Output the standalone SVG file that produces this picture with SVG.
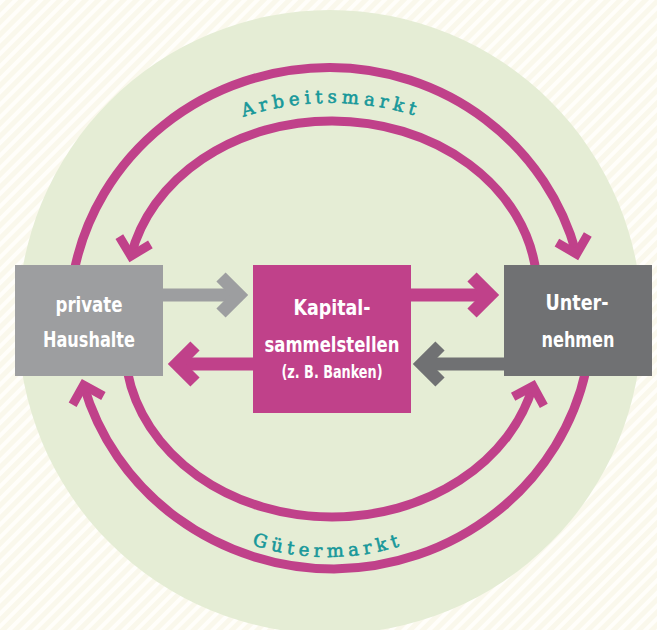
<svg xmlns="http://www.w3.org/2000/svg" width="657" height="630" viewBox="0 0 657 630">
  <style>
    .arc { fill: none; stroke: #c0418a; stroke-width: 9; marker-end: url(#ah); }
    .shaft { fill: none; stroke-width: 13; stroke-linecap: butt; stroke-linejoin: miter; }
    .mag { stroke: #c0418a; }
    .lgray { stroke: #9d9ea0; }
    .dgray { stroke: #707173; }
    .box-text { fill: #ffffff; font-family: "Liberation Sans Narrow", "DejaVu Sans Condensed", "Liberation Sans", sans-serif; font-weight: bold; font-size: 22px; text-anchor: middle; }
    .small { font-size: 17px; }
    .market { fill: #17989a; stroke: #17989a; stroke-width: 0.6px; font-family: "DejaVu Serif", "Liberation Serif", serif; font-size: 18px; letter-spacing: 4.8px; text-anchor: middle; }
  </style>
  <defs>
    <pattern id="stripes" width="9" height="9" patternUnits="userSpaceOnUse" patternTransform="rotate(45)">
      <rect width="9" height="9" fill="#faf8ec"/>
      <rect width="4" height="9" fill="#fffefa"/>
    </pattern>
    <marker id="ah" markerUnits="userSpaceOnUse" viewBox="-22 -22 32 44" markerWidth="32" markerHeight="44" refX="0" refY="0" orient="auto">
      <path d="M -16 -16 L 0 0 L -16 16" fill="none" stroke="#c0418a" stroke-width="9" stroke-linejoin="miter"/>
    </marker>
    <path id="p-arbeit" d="M 148.4 169.4 A 284 284 0 0 1 513.6 169.4"/>
    <path id="p-gueter" d="M 173.7 500.9 A 240 240 0 0 0 482.3 500.9"/>
  </defs>

  <rect width="657" height="630" fill="url(#stripes)"/>
  <circle cx="330" cy="322" r="312" fill="#e5edd5"/>

  <g id="connectors">
    <path class="arc" d="M 74 272 A 260 250.5 0 0 1 330 67.5 A 255 250.5 0 0 1 576.5 254"/>
    <path class="arc" d="M 536 272 A 205 169 0 0 0 332 121 A 205 169 0 0 0 131 256"/>
    <path class="arc" d="M 586 370 A 260 251 0 0 1 334 569 A 260 251 0 0 1 83.6 385"/>
    <path class="arc" d="M 127.5 372 A 207 172 0 0 0 332 517 A 207 172 0 0 0 533 386"/>
  </g>

  <text class="market"><textPath href="#p-arbeit" startOffset="50%" dx="2">Arbeitsmarkt</textPath></text>
  <text class="market"><textPath href="#p-gueter" startOffset="50%" dx="2">Gütermarkt</textPath></text>

  <g id="haushalte">
    <rect x="15" y="265" width="148" height="111" fill="#9d9ea0"/>
    <text class="box-text" x="89" y="312" textLength="67" lengthAdjust="spacingAndGlyphs">private</text>
    <text class="box-text" x="89" y="347" textLength="92" lengthAdjust="spacingAndGlyphs">Haushalte</text>
  </g>

  <g id="kapitalsammelstellen">
    <rect x="253" y="265" width="158" height="148" fill="#c0418a"/>
    <text class="box-text" x="332" y="315" textLength="77" lengthAdjust="spacingAndGlyphs">Kapital-</text>
    <text class="box-text" x="332" y="351.5" textLength="135" lengthAdjust="spacingAndGlyphs">sammelstellen</text>
    <text class="box-text small" x="332" y="378" textLength="101" lengthAdjust="spacingAndGlyphs">(z. B. Banken)</text>
  </g>

  <g id="unternehmen">
    <rect x="504" y="265" width="148" height="111" fill="#707173"/>
    <text class="box-text" x="577" y="310" textLength="63" lengthAdjust="spacingAndGlyphs">Unter-</text>
    <text class="box-text" x="578" y="347" textLength="73" lengthAdjust="spacingAndGlyphs">nehmen</text>
  </g>

  <g id="flow-arrows">
    <line class="shaft lgray" x1="163" y1="295" x2="239" y2="295"/>
    <polyline class="shaft lgray" points="221,277 239,295 221,313"/>
    <line class="shaft mag" x1="411" y1="295" x2="490" y2="295"/>
    <polyline class="shaft mag" points="472,277 490,295 472,313"/>
    <line class="shaft mag" x1="253" y1="364" x2="177" y2="364"/>
    <polyline class="shaft mag" points="195,346 177,364 195,382"/>
    <line class="shaft dgray" x1="504" y1="364" x2="422" y2="364"/>
    <polyline class="shaft dgray" points="440,346 422,364 440,382"/>
  </g>
</svg>
